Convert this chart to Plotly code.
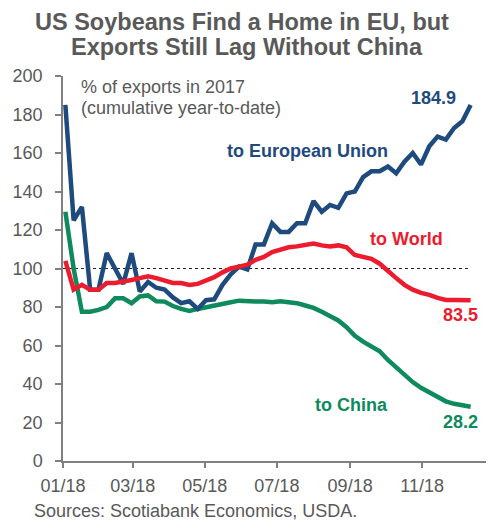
import pandas as pd
import plotly.graph_objects as go

# Weekly cumulative year-to-date US soybean exports, % of the same point in 2017
weeks = pd.date_range("2018-01-03", periods=50, freq="7D")

to_eu = [185, 125, 132, 89, 89, 108, 100, 92, 108, 88,
         93, 90, 89, 85, 82, 83, 79, 83.5, 84, 91.5,
         97, 101, 99.5, 112.5, 112.5, 123.5, 119, 119, 123.5, 123.5,
         135, 129.5, 133, 131.5, 139, 140, 147.5, 150.5, 150.5, 153,
         149.5, 155.5, 160, 154, 163.5, 168.5, 167, 173, 176.5, 184.9]

to_world = [104, 89, 91.5, 89, 89, 92.5, 92.5, 93, 94, 95,
            96, 95, 94, 92.5, 92.5, 91.5, 92, 93.5, 95.5, 98,
            100, 101, 102, 104.5, 106, 108.5, 110, 111, 111.5, 112,
            113, 112, 111.5, 112, 111, 107, 106, 105, 102.5, 98.5,
            95, 91.5, 89, 87.3, 86.3, 84.7, 83.7, 83.7, 83.7, 83.5]

to_china = [129.5, 100, 77.5, 77.5, 78.5, 80, 84.5, 84.5, 82, 85.5,
            86, 83, 82.8, 80.5, 79, 78, 79, 80, 80.8, 81.5,
            82.5, 83.3, 82.8, 82.8, 82.8, 82.5, 83, 82.5, 82, 80.8,
            79.5, 77.5, 75.3, 73, 69.5, 65, 62, 59.5, 57, 52.5,
            48.5, 44.5, 41, 38, 35.5, 33.5, 31, 29.7, 29, 28.2]

tick_dates = ["2018-01-01", "2018-03-01", "2018-05-01", "2018-07-01", "2018-09-01", "2018-11-01"]
tick_text = ["01/18", "03/18", "05/18", "07/18", "09/18", "11/18"]
y_ticks = [0, 20, 40, 60, 80, 100, 120, 140, 160, 180, 200]

BLUE = "#1f4a7e"
RED = "#ec1c2e"
GREEN = "#0e8a5c"
GREY = "#595959"
AXIS = "#808080"
FONT = "Liberation Sans, Arial, sans-serif"

W, H = 490, 523
L, R, T, B = 63, 4, 76, 62


def px(x, y):
    """Pixel position in the page -> paper coordinates."""
    return (x - L) / (W - L - R), (H - B - y) / (H - T - B)


fig = go.Figure()
for vals, color in [(to_china, GREEN), (to_eu, BLUE), (to_world, RED)]:
    fig.add_trace(go.Scatter(x=weeks, y=vals, mode="lines",
                             line=dict(color=color, width=4.5),
                             hoverinfo="skip", showlegend=False))

# 100% reference line
fig.add_shape(type="line", xref="x", yref="y", x0="2018-01-01", x1=weeks[-1],
              y0=100, y1=100, line=dict(color="#222222", width=1, dash="3px,3px"),
              layer="below")

ann = []


def text_at(x, y, s, size=18, color=GREY, bold=False, xanchor="center"):
    xp, yp = px(x, y)
    ann.append(dict(x=xp, y=yp, xref="paper", yref="paper", text=f"<b>{s}</b>" if bold else s,
                    showarrow=False, xanchor=xanchor, yanchor="middle",
                    font=dict(family=FONT, size=size, color=color)))


# Title
text_at(242, 22, "US Soybeans Find a Home in EU, but", size=23.5, bold=True)
text_at(247, 47, "Exports Still Lag Without China", size=23.5, bold=True)

# Units note
text_at(79, 87, "% of exports in 2017", xanchor="left")
text_at(79, 108, "(cumulative year-to-date)", xanchor="left")

# Series names
text_at(307, 151, "to European Union", color=BLUE, bold=True)
text_at(406, 239, "to World", color=RED, bold=True)
text_at(351, 405, "to China", color=GREEN, bold=True)

# End values, tied to the last data points
for vals, color, dx, dy in [(to_eu, BLUE, -37, -7), (to_world, RED, -10, 15), (to_china, GREEN, -10, 15)]:
    ann.append(dict(x=weeks[-1], y=vals[-1], xref="x", yref="y", text=f"<b>{vals[-1]:.1f}</b>",
                    showarrow=False, xanchor="center", yanchor="middle",
                    xshift=dx, yshift=-dy,
                    font=dict(family=FONT, size=18, color=color)))

# Source
text_at(32, 511, "Sources: Scotiabank Economics, USDA.", xanchor="left")

fig.update_layout(
    width=W, height=H,
    margin=dict(l=L, r=R, t=T, b=B),
    paper_bgcolor="white", plot_bgcolor="white",
    font=dict(family=FONT, size=18, color=GREY),
    annotations=ann,
    xaxis=dict(type="date", range=["2018-01-01", "2018-12-25"],
               tickvals=tick_dates, ticktext=tick_text,
               showgrid=False, zeroline=False,
               showline=True, linecolor=AXIS, linewidth=1.5,
               ticks="outside", ticklen=5, tickwidth=1.5, tickcolor=AXIS,
               tickfont=dict(size=18, color=GREY), ticklabelstandoff=3),
    yaxis=dict(range=[0, 200], tickvals=y_ticks,
               showgrid=False, zeroline=False,
               showline=True, linecolor=AXIS, linewidth=1.5,
               ticks="outside", ticklen=6, tickwidth=1.5, tickcolor=AXIS,
               tickfont=dict(size=18, color=GREY), ticklabelstandoff=9),
)

fig.write_html("out.html")
